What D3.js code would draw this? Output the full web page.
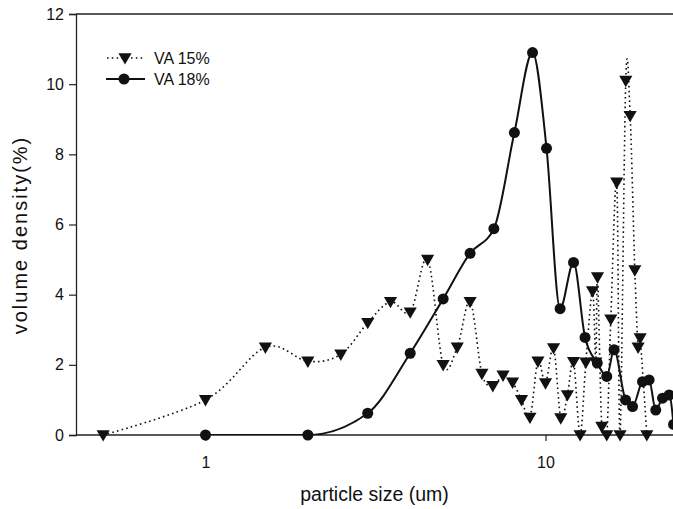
<!DOCTYPE html>
<html>
<head>
<meta charset="utf-8">
<script src="https://cdn.jsdelivr.net/npm/d3@7"></script>
<style>
  body{margin:0;background:#fff;}
  text{font-family:"Liberation Sans",Arial,Helvetica,sans-serif;fill:#111;}
</style>
</head>
<body>
<div id="chart"></div>
<script>
// DATA
let sizes15 = [0.5,1,1.5,2,2.5,3,3.5,4,4.5,5,5.5,6,6.5,7,7.5,8,8.5,9,9.5,10,10.56,11.09,11.6,12.09,12.64,13.14,13.75,14.06,14.22,14.64,15.14,15.56,16.2,16.57,17.22,17.74,18.31,18.72,18.98,19.86];
let va15   = [0,1.0,2.5,2.1,2.3,3.2,3.8,3.5,5.0,2.0,2.5,3.8,1.75,1.4,1.7,1.5,1.0,0.5,2.1,1.48,2.48,0.48,1.14,2.09,0,2.07,4.1,2.07,4.5,0.24,0,3.3,7.2,0,10.1,9.1,4.7,2.5,2.76,0];

let sizes18 = [1,2,3,4,5,6,7.05,8.1,9.16,10.07,11.04,12.09,13.07,14.2,15.14,15.91,17.2,18.03,19.29,20.17,21.1,22.09,23.1,23.8];
let va18   = [0,0,0.62,2.33,3.88,5.18,5.88,8.62,10.9,8.17,3.6,4.92,2.78,2.05,1.67,2.43,1.0,0.81,1.52,1.57,0.71,1.05,1.14,0.3];

let yTicks = [0,2,4,6,8,10,12];
let xTicks = [1,10];

// DIMENSIONS
let width = 673, height = 509;
let mLeft = 76, mTop = 14, mBottom = 435;

let svg = d3.select("#chart").append("svg")
            .attr("width",width)
            .attr("height",height);

// SCALES  (plot runs past the right edge of the picture, like the scan)
let x = d3.scaleLog().domain([0.416,30]).range([mLeft, mLeft + 340*Math.log10(30/0.416)]);
let y = d3.scaleLinear().domain([0,12]).range([mBottom,mTop]);

// FRAME
svg.append("line")
   .attr("x1",mLeft).attr("x2",x.range()[1]).attr("y1",mTop).attr("y2",mTop)
   .attr("stroke","#222").attr("stroke-width",1.3);

// AXES
let yAxis = svg.append("g")
               .attr("transform","translate("+mLeft+",0)")
               .call(d3.axisLeft(y).tickValues(yTicks).tickSize(7).tickPadding(5));
let xAxis = svg.append("g")
               .attr("transform","translate(0,"+mBottom+")")
               .call(d3.axisBottom(x).tickValues(xTicks).tickFormat(d3.format("d")).tickSize(6).tickPadding(16));

[yAxis,xAxis].forEach(a=>{
  a.select(".domain").attr("stroke","#222").attr("stroke-width",1.3);
  a.selectAll(".tick line").attr("stroke","#222").attr("stroke-width",1.2);
  a.selectAll("text").style("font-size","16px").attr("fill","#111");
});
xAxis.select(".domain").attr("d","M"+mLeft+",0H"+x.range()[1]);

// AXIS TITLES
svg.append("text")
   .attr("x",(mLeft + width)/2)
   .attr("y",501)
   .attr("text-anchor","middle")
   .style("font-size","19.5px")
   .text("particle size (um)");

svg.append("text")
   .attr("transform","translate(27,235) rotate(-90)")
   .attr("text-anchor","middle")
   .style("font-size","20px")
   .style("letter-spacing","2px")
   .text("volume density(%)");

// CLIPS: lines stop at the axis, markers may sit on it
svg.append("clipPath").attr("id","clipLine")
   .append("rect").attr("x",mLeft).attr("y",0).attr("width",width-mLeft).attr("height",mBottom);
svg.append("clipPath").attr("id","clipMark")
   .append("rect").attr("x",mLeft).attr("y",0).attr("width",width-mLeft).attr("height",mBottom+10);

let dotted = d3.line()
               .x(d=>x(d[0]))
               .y(d=>y(d[1]))
               .curve(d3.curveCatmullRom.alpha(0));

let solid = d3.line()
              .x(d=>x(d[0]))
              .y(d=>y(d[1]))
              .curve(d3.curveMonotoneX);

let pts15 = sizes15.map((s,i)=>[s,va15[i]]);
let pts18 = sizes18.map((s,i)=>[s,va18[i]]);

let lines = svg.append("g").attr("clip-path","url(#clipLine)");

lines.append("path")
     .attr("d",dotted(pts15))
     .attr("fill","none")
     .attr("stroke","#111")
     .attr("stroke-width",1.6)
     .attr("stroke-dasharray","1.6,3.2");

lines.append("path")
     .attr("d",solid(pts18))
     .attr("fill","none")
     .attr("stroke","#111")
     .attr("stroke-width",2);

// MARKERS
let tri = d3.symbol().type(d3.symbolTriangle).size(75);
let marks = svg.append("g").attr("clip-path","url(#clipMark)");

marks.selectAll("path.tri").data(pts15)
     .enter().append("path").classed("tri",true)
     .attr("d",tri)
     .attr("transform",d=>"translate("+x(d[0])+","+(y(d[1])-1)+") rotate(180)")
     .attr("fill","#111");

marks.selectAll("circle.dot").data(pts18)
     .enter().append("circle").classed("dot",true)
     .attr("cx",d=>x(d[0]))
     .attr("cy",d=>y(d[1]))
     .attr("r",5.5)
     .attr("fill","#111");

// LEGEND
let legend = svg.append("g");
legend.append("line").attr("x1",107).attr("x2",145).attr("y1",58).attr("y2",58)
      .attr("stroke","#111").attr("stroke-width",1.6).attr("stroke-dasharray","1.6,3.2");
legend.append("path").attr("d",tri).attr("transform","translate(125,57) rotate(180)").attr("fill","#111");
legend.append("text").attr("x",154).attr("y",64).style("font-size","16px").text("VA 15%");

legend.append("line").attr("x1",106).attr("x2",145).attr("y1",79).attr("y2",79)
      .attr("stroke","#111").attr("stroke-width",2);
legend.append("circle").attr("cx",124).attr("cy",79).attr("r",5.5).attr("fill","#111");
legend.append("text").attr("x",154).attr("y",85).style("font-size","16px").text("VA 18%");
</script>
</body>
</html>
